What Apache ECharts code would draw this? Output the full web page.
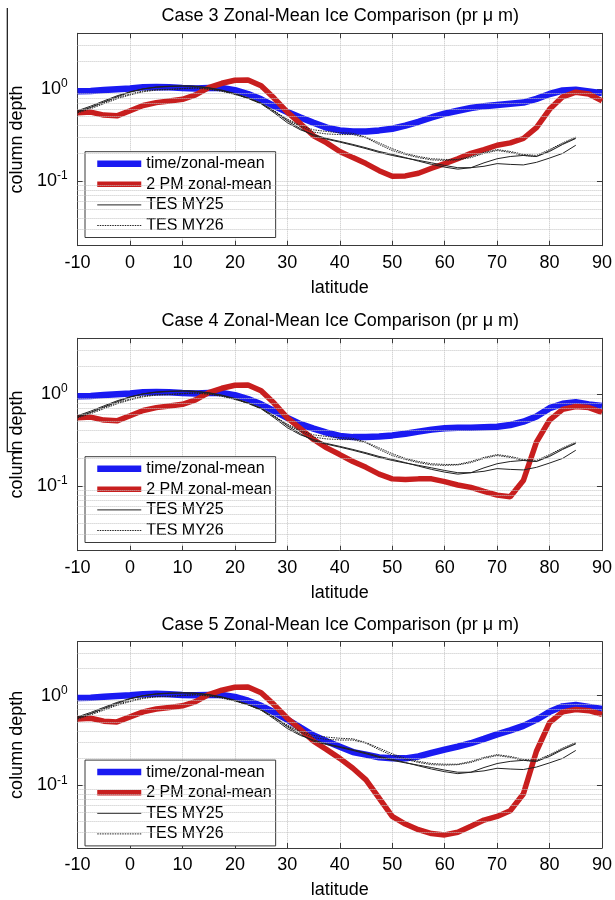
<!DOCTYPE html>
<html>
<head>
<meta charset="utf-8">
<script src="https://cdn.jsdelivr.net/npm/echarts@6/dist/echarts.min.js"></script>
<style>html,body{margin:0;padding:0;background:#fff}#c{width:615px;height:900px}</style>
</head>
<body>
<div id="c"></div>
<script>
// ---------------- data ----------------
const caseTitles = ['Case 3 Zonal-Mean Ice Comparison (pr \u03bc m)', 'Case 4 Zonal-Mean Ice Comparison (pr \u03bc m)', 'Case 5 Zonal-Mean Ice Comparison (pr \u03bc m)'];
const seriesNames = ['time/zonal-mean', '2 PM zonal-mean', 'TES MY25', 'TES MY26'];
const xTicks = [-10, 0, 10, 20, 30, 40, 50, 60, 70, 80, 90];
const yMajorTicks = [0.1, 1];
const yMinorGrid = [0.03, 0.04, 0.05, 0.06, 0.07, 0.08, 0.09, 0.2, 0.3, 0.4, 0.5, 0.6, 0.7, 0.8, 0.9, 2, 3];

// model latitudes (-10 .. 90 by 2.5)
const latModel = [-10,-7.5,-5,-2.5,0,2.5,5,7.5,10,12.5,15,17.5,20,22.5,25,27.5,30,32.5,35,37.5,40,42.5,45,47.5,50,52.5,55,57.5,60,62.5,65,67.5,70,72.5,75,77.5,80,82.5,85,87.5,90];

const blueCase3 = [0.94,0.95,0.97,0.99,1.01,1.04,1.05,1.04,1.02,1.01,1.02,1.02,0.97,0.88,0.77,0.65,0.56,0.49,0.43,0.38,0.355,0.345,0.345,0.355,0.37,0.40,0.44,0.49,0.54,0.58,0.62,0.65,0.67,0.69,0.71,0.78,0.88,0.96,0.98,0.94,0.90];
const blueCase4 = [0.94,0.95,0.97,0.99,1.01,1.04,1.05,1.04,1.02,1.01,1.02,1.02,0.97,0.88,0.77,0.65,0.55,0.47,0.42,0.38,0.35,0.34,0.34,0.345,0.355,0.37,0.39,0.41,0.425,0.43,0.43,0.435,0.44,0.46,0.50,0.57,0.70,0.78,0.81,0.77,0.74];
const blueCase5 = [0.94,0.95,0.97,0.99,1.01,1.04,1.05,1.04,1.02,1.01,1.02,1.02,0.97,0.88,0.77,0.65,0.54,0.44,0.36,0.31,0.27,0.235,0.22,0.205,0.20,0.20,0.21,0.23,0.25,0.27,0.295,0.33,0.37,0.41,0.46,0.54,0.66,0.76,0.79,0.75,0.71];

const redCase3 = [0.55,0.56,0.52,0.51,0.58,0.66,0.71,0.74,0.77,0.86,1.03,1.15,1.24,1.25,1.08,0.79,0.56,0.42,0.31,0.26,0.21,0.18,0.155,0.13,0.113,0.114,0.122,0.138,0.155,0.175,0.20,0.22,0.245,0.26,0.29,0.38,0.60,0.82,0.92,0.88,0.74];
const redCase4 = [0.55,0.56,0.52,0.51,0.58,0.66,0.71,0.74,0.77,0.86,1.03,1.15,1.24,1.25,1.08,0.79,0.55,0.42,0.32,0.26,0.22,0.185,0.16,0.135,0.12,0.118,0.12,0.12,0.112,0.103,0.097,0.088,0.08,0.077,0.115,0.30,0.52,0.68,0.73,0.71,0.63];
const redCase5 = [0.55,0.56,0.52,0.51,0.58,0.66,0.71,0.74,0.77,0.86,1.03,1.15,1.24,1.25,1.08,0.79,0.56,0.42,0.31,0.25,0.20,0.155,0.115,0.072,0.045,0.037,0.032,0.029,0.028,0.030,0.035,0.041,0.045,0.052,0.08,0.24,0.50,0.66,0.70,0.68,0.62];

// TES latitudes (-10 .. 85 by 2.5)
const latTES = [-10,-7.5,-5,-2.5,0,2.5,5,7.5,10,12.5,15,17.5,20,22.5,25,27.5,30,32.5,35,37.5,40,42.5,45,47.5,50,52.5,55,57.5,60,62.5,65,67.5,70,72.5,75,77.5,80,82.5,85];
const tesMY25a = [0.58,0.65,0.74,0.84,0.93,1.0,1.05,1.07,1.08,1.07,1.03,0.97,0.89,0.80,0.70,0.57,0.45,0.37,0.31,0.285,0.265,0.245,0.225,0.205,0.19,0.178,0.168,0.158,0.148,0.14,0.14,0.145,0.155,0.152,0.15,0.16,0.178,0.20,0.245];
const tesMY25b = [0.56,0.63,0.72,0.82,0.92,1.0,1.04,1.06,1.07,1.06,1.02,0.96,0.88,0.79,0.69,0.55,0.43,0.36,0.32,0.29,0.27,0.25,0.23,0.21,0.195,0.18,0.165,0.152,0.142,0.135,0.14,0.158,0.175,0.185,0.19,0.185,0.21,0.25,0.29];
const tesMY26a = [0.55,0.61,0.69,0.78,0.86,0.93,0.97,0.98,1.0,1.02,0.99,0.94,0.87,0.79,0.69,0.57,0.47,0.40,0.36,0.345,0.335,0.33,0.30,0.26,0.225,0.20,0.185,0.175,0.172,0.172,0.185,0.205,0.22,0.21,0.195,0.19,0.22,0.26,0.30];
const tesMY26b = [0.57,0.63,0.71,0.80,0.88,0.95,0.98,0.99,1.01,1.03,1.0,0.95,0.88,0.80,0.70,0.58,0.46,0.39,0.34,0.325,0.32,0.32,0.295,0.25,0.215,0.195,0.18,0.17,0.168,0.17,0.18,0.20,0.215,0.205,0.19,0.185,0.215,0.255,0.295];

const blueByCase = [blueCase3, blueCase4, blueCase5];
const redByCase = [redCase3, redCase4, redCase5];

// ---------------- layout / style ----------------
const FONT = 'Liberation Sans, Arial, Helvetica, sans-serif';
const gridTops = [33.3, 338.3, 641.7];
const GRID_LEFT = 76.7, GRID_W = 527.3, GRID_H = 212.4;
const BOX = '#3a3a3a';
const GRIDC = '#c4c4c4';
const BLUE = '#1a1af2', RED = '#c81e1e', BLK = '#222';
const styles = [
  { color: BLUE, width: 6.5, type: 'solid' },
  { color: RED, width: 5.5, type: 'solid' },
  { color: BLK, width: 1, type: 'solid' },
  { color: BLK, width: 1, type: [1.5, 1] }
];

function pairs(xs, ys) { return xs.map((x, i) => [x, ys[i]]); }
function isMajor(v) { return yMajorTicks.some(t => Math.abs(t - v) < 1e-9); }

const grids = [], xAxes = [], yAxes = [], series = [], titles = [], legends = [];

gridTops.forEach((top, p) => {
  grids.push({ left: GRID_LEFT, top: top, width: GRID_W, height: GRID_H, containLabel: false });
  titles.push({
    text: caseTitles[p], left: GRID_LEFT + GRID_W / 2, top: top - 26, textAlign: 'center', padding: 0,
    textStyle: { fontFamily: FONT, fontSize: 18, fontWeight: 'normal', color: '#000' }
  });
  xAxes.push({
    type: 'value', gridIndex: p, min: -10, max: 90, interval: 10, position: 'bottom',
    name: 'latitude', nameLocation: 'middle', nameGap: 33,
    nameTextStyle: { fontFamily: FONT, fontSize: 18, color: '#000' },
    axisLine: { show: true, onZero: false, lineStyle: { color: BOX, width: 1 } },
    axisTick: { show: true, inside: true, length: 5, lineStyle: { color: BOX } },
    axisLabel: { fontFamily: FONT, fontSize: 18, color: '#000', margin: 8, showMinLabel: true, showMaxLabel: true,
      formatter: v => xTicks.indexOf(v) >= 0 ? String(v) : '' },
    splitLine: { show: true, lineStyle: { color: GRIDC, type: 'dotted', width: 1 } }
  });
  xAxes.push({
    type: 'value', gridIndex: p, min: -10, max: 90, interval: 10, position: 'top',
    axisLine: { show: true, onZero: false, lineStyle: { color: BOX, width: 1 } },
    axisTick: { show: true, inside: true, length: 5, lineStyle: { color: BOX } },
    axisLabel: { show: false }, splitLine: { show: false }
  });
  yAxes.push({
    type: 'log', logBase: 10, gridIndex: p, min: 0.02, max: 4, position: 'left',
    name: 'column depth', nameLocation: 'middle', nameGap: 50, nameRotate: 90,
    nameTextStyle: { fontFamily: FONT, fontSize: 18, color: '#000' },
    axisLine: { show: true, onZero: false, lineStyle: { color: BOX, width: 1 } },
    axisTick: { show: true, inside: true, length: 5, lineStyle: { color: BOX } },
    axisLabel: {
      margin: 10, fontFamily: FONT,
      formatter: v => isMajor(v) ? '{b|10}{s|' + Math.round(Math.log10(v)) + '}' : '',
      rich: {
        b: { fontFamily: FONT, fontSize: 18, color: '#000', lineHeight: 22 },
        s: { fontFamily: FONT, fontSize: 12, color: '#000', verticalAlign: 'top', lineHeight: 12 }
      }
    },
    splitLine: { show: true, lineStyle: { color: GRIDC, type: 'dotted', width: 1 } }
  });
  yAxes.push({
    type: 'log', logBase: 10, gridIndex: p, min: 0.02, max: 4, position: 'right',
    axisLine: { show: true, onZero: false, lineStyle: { color: BOX, width: 1 } },
    axisTick: { show: true, inside: true, length: 5, lineStyle: { color: BOX } },
    axisLabel: { show: false }, splitLine: { show: false }
  });

  const xi = p * 2, yi = p * 2;
  const base = { type: 'line', xAxisIndex: xi, yAxisIndex: yi, symbol: 'none', smooth: false, animation: false, silent: true };
  const mk = (nameIdx, xs, ys, extra) => Object.assign({}, base, {
    name: seriesNames[nameIdx], data: pairs(xs, ys),
    lineStyle: { color: styles[nameIdx].color, width: styles[nameIdx].width, type: styles[nameIdx].type },
    itemStyle: { color: styles[nameIdx].color }
  }, extra || {});
  series.push(mk(0, latModel, blueByCase[p], {
    markLine: {
      silent: true, symbol: ['none', 'none'], animation: false, label: { show: false },
      lineStyle: { color: GRIDC, type: 'dotted', width: 1 },
      data: yMinorGrid.map(v => ({ yAxis: v }))
    }
  }));
  series.push(mk(1, latModel, redByCase[p]));
  series.push(mk(2, latTES, tesMY25a));
  series.push(mk(2, latTES, tesMY25b));
  series.push(mk(3, latTES, tesMY26a));
  series.push(mk(3, latTES, tesMY26b));

  legends.push({
    data: seriesNames.map((n, i) => ({
      name: n,
      itemStyle: { opacity: 0 },
      lineStyle: { color: styles[i].color, width: styles[i].width, type: styles[i].type }
    })),
    orient: 'vertical', left: 85, top: top + 118.4,
    itemWidth: 44, itemHeight: 12, itemGap: 2.6, itemTextGap: 3,
    padding: [3, 4, 3, 9], backgroundColor: '#fff', borderColor: BOX, borderWidth: 1,
    selectedMode: false,
    itemStyle: { opacity: 0 },
    textStyle: { fontFamily: FONT, fontSize: 16, color: '#000', lineHeight: 18 }
  });
});

const chart = echarts.init(document.getElementById('c'), null, { renderer: 'canvas' });
chart.setOption({
  backgroundColor: '#fff',
  animation: false,
  title: titles,
  legend: legends,
  grid: grids,
  xAxis: xAxes,
  yAxis: yAxes,
  series: series,
  graphic: [
    { type: 'polyline', silent: true, shape: { points: [[7.3, 8], [7.3, 451.7], [22, 451.7]] }, style: { stroke: '#111', lineWidth: 1.2, fill: null } }
  ]
});
</script>
</body>
</html>
